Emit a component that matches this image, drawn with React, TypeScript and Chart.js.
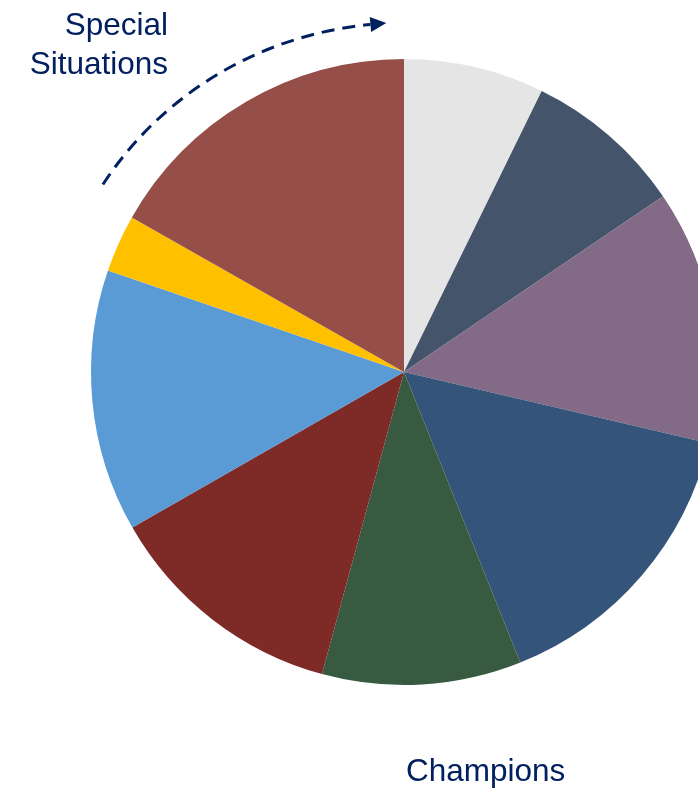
import React, { useEffect, useRef } from "react";
import { Chart, registerables } from "chart.js";

Chart.register(...registerables);

const categories = [
  "Segment A",
  "Segment B",
  "Segment C",
  "Segment D",
  "Segment E",
  "Segment F",
  "Segment G",
  "Segment H",
  "Special Situations",
];
const shares = [7.25, 8.26, 13.15, 15.28, 10.28, 12.5, 13.54, 2.96, 16.78];
const sliceColors = [
  "#e5e5e5",
  "#44546a",
  "#836a86",
  "#355479",
  "#375a41",
  "#7e2b28",
  "#5b9bd5",
  "#ffc000",
  "#954f48",
];
const topLabel = ["Special", "Situations"];
const bottomLabel = "Champions";

const NAVY = "#002060";

const arrowPlugin = {
  id: "arrowPlugin",
  afterDraw(chart: any) {
    const meta = chart.getDatasetMeta(0);
    const arc = meta.data[0];
    if (!arc) return;
    const cx = arc.x;
    const cy = arc.y;
    const rx = arc.outerRadius + 44;
    const ry = arc.outerRadius + 36;
    const ctx = chart.ctx;
    const deg = Math.PI / 180;
    const a0 = -147.5 * deg;
    const a1 = -95.4 * deg;
    ctx.save();
    ctx.strokeStyle = NAVY;
    ctx.lineWidth = 3;
    ctx.setLineDash([13, 8]);
    ctx.beginPath();
    ctx.ellipse(cx, cy, rx, ry, 0, a0, a1);
    ctx.stroke();
    ctx.setLineDash([]);
    // arrow head
    const ex = cx + rx * Math.cos(a1);
    const ey = cy + ry * Math.sin(a1);
    let tx = -rx * Math.sin(a1);
    let ty = ry * Math.cos(a1);
    const tl = Math.hypot(tx, ty);
    tx /= tl;
    ty /= tl;
    const nx = -ty;
    const ny = tx;
    const len = 16;
    const hw = 7.5;
    ctx.fillStyle = NAVY;
    ctx.beginPath();
    ctx.moveTo(ex + tx * len, ey + ty * len);
    ctx.lineTo(ex + nx * hw, ey + ny * hw);
    ctx.lineTo(ex - nx * hw, ey - ny * hw);
    ctx.closePath();
    ctx.fill();
    ctx.restore();
  },
};

export default function App() {
  const ref = useRef<HTMLCanvasElement | null>(null);
  useEffect(() => {
    if (!ref.current) return;
    const chart = new Chart(ref.current, {
      type: "pie",
      data: {
        labels: categories,
        datasets: [
          {
            data: shares,
            backgroundColor: sliceColors,
            borderWidth: 0,
          },
        ],
      },
      options: {
        animation: false,
        responsive: false,
        layout: { padding: { left: 91, top: 59, right: 91, bottom: 103 } },
        plugins: {
          legend: { display: false },
          tooltip: { enabled: false },
        },
      },
      plugins: [arrowPlugin],
    });
    return () => chart.destroy();
  }, []);

  const textStyle: React.CSSProperties = {
    position: "absolute",
    fontFamily: "'Liberation Sans', Arial, sans-serif",
    fontSize: "31.5px",
    lineHeight: "38.5px",
    color: NAVY,
    whiteSpace: "nowrap",
  };

  return (
    <div
      style={{
        position: "absolute",
        left: 0,
        top: 0,
        width: 698,
        height: 788,
        overflow: "hidden",
        background: "#ffffff",
      }}
    >
      <canvas ref={ref} width={808} height={788} style={{ position: "absolute", left: 0, top: 0 }} />
      <div style={{ ...textStyle, left: 0, top: 5, width: 168, textAlign: "right" }}>
        {topLabel[0]}
        <br />
        {topLabel[1]}
      </div>
      <div style={{ ...textStyle, left: 406, top: 751 }}>{bottomLabel}</div>
    </div>
  );
}
